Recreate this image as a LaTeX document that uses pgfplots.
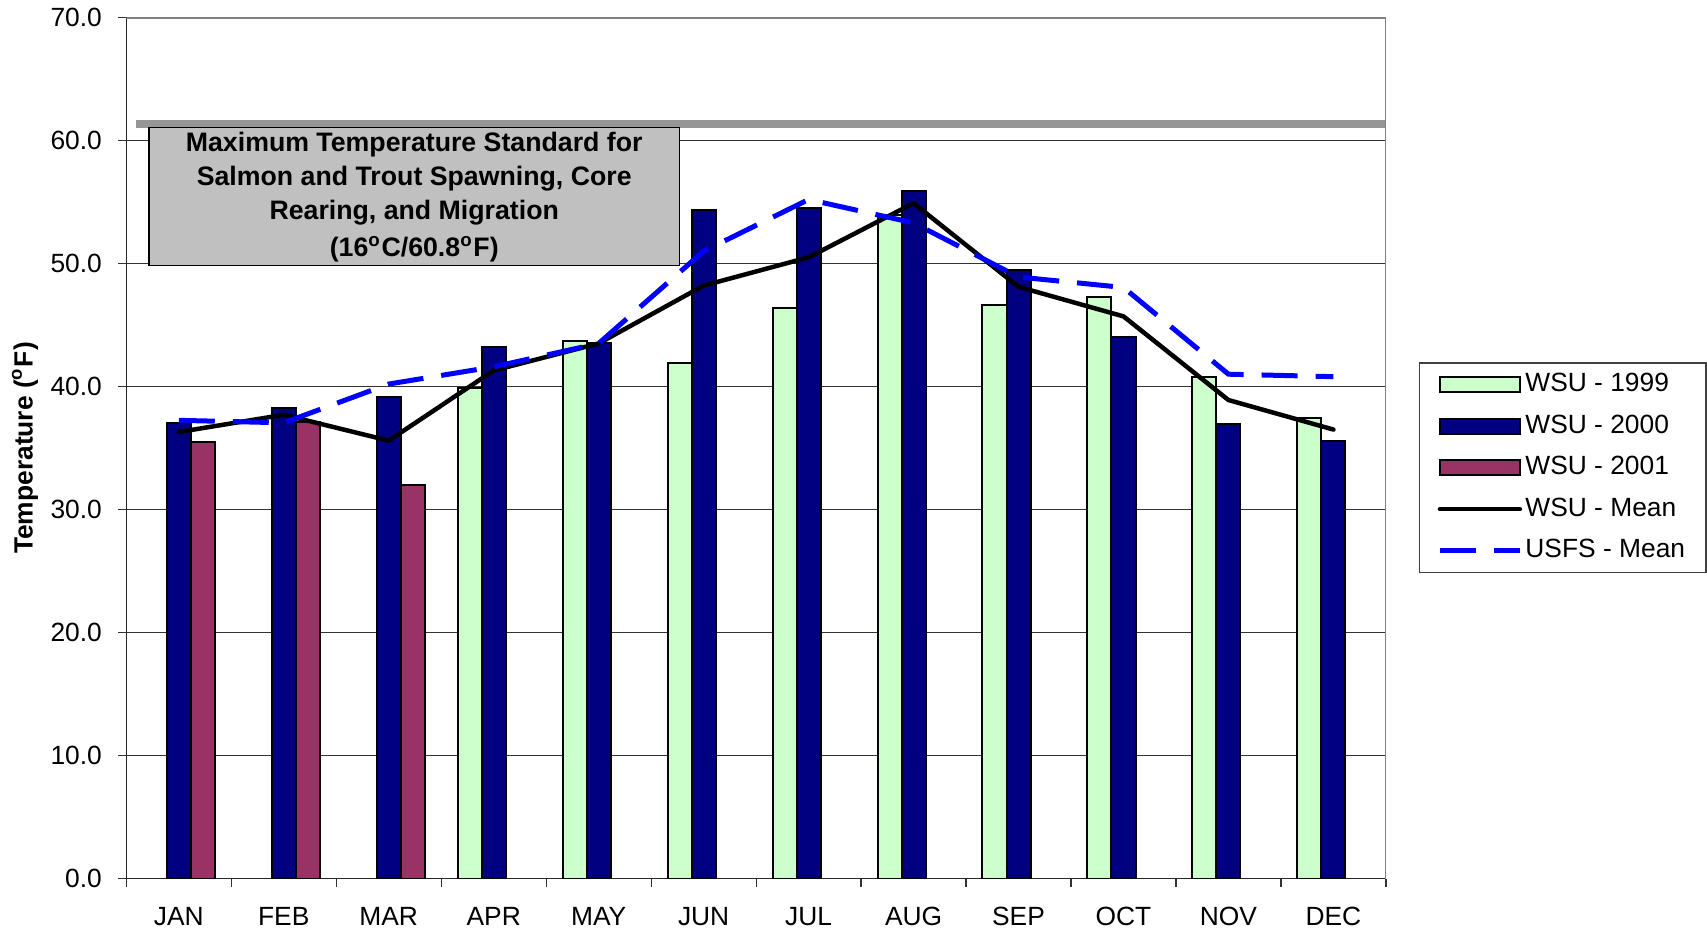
\documentclass[border=0pt]{standalone}
\usepackage{fontspec}
\setmainfont{Liberation Sans}
\usepackage{pgfplots}
\pgfplotsset{compat=1.18}

\definecolor{c1999}{HTML}{CCFFCC}
\definecolor{c2000}{HTML}{000080}
\definecolor{c2001}{HTML}{993366}
\definecolor{boxgray}{HTML}{C0C0C0}
\definecolor{stdgray}{HTML}{969696}
\definecolor{usfsblue}{HTML}{0000FF}

\newcommand{\fs}{\fontsize{7.5}{9}\selectfont}

\pgfplotsset{
  barlegend/.style={legend image code/.code={\draw[##1] (0mm,-0.75mm) rectangle (8mm,0.75mm);}},
  linelegend/.style={legend image code/.code={\draw[##1] (0mm,0mm) -- (8mm,0mm);}},
}

\begin{document}
\begin{tikzpicture}
\path[use as bounding box] (-12.63mm,-5.34mm) rectangle (158.07mm,87.86mm);
\begin{axis}[
    at={(0,0)}, anchor=south west,
    scale only axis, width=125.96mm, height=86.12mm,
    xmin=-0.5, xmax=11.5, ymin=0, ymax=70,
    axis x line*=bottom, axis y line*=left,
    axis line style={-, black!85, line width=0.15mm},
    xtick={0,...,11},
    xticklabels={JAN,FEB,MAR,APR,MAY,JUN,JUL,AUG,SEP,OCT,NOV,DEC},
    minor xtick={-0.5,0.5,...,11.5},
    major x tick style={draw=none},
    ytick={0,10,...,70},
    tick align=outside,
    major tick length=0.8mm, minor tick length=0.8mm,
    tick style={black!80, line width=0.12mm},
    ymajorgrids, grid style={black!80, line width=0.1mm},
    /pgf/number format/assume math mode=true,
    yticklabel style={/pgf/number format/fixed, /pgf/number format/fixed zerofill,
        /pgf/number format/precision=1, xshift=-0.4mm},
    ticklabel style={font=\fs},
    xticklabel style={yshift=-0.8mm},
    ylabel={\textbf{Temperature (\textsuperscript{o}F)}},
    ylabel style={font=\fs, at={(axis description cs:-0.0804,0.5)}, anchor=center},
    legend style={at={(1.026,0.5993)}, anchor=north west, font=\fs,
        draw=black!75, line width=0.15mm, inner xsep=1.8mm, inner ysep=0.45mm,
        row sep=0.75mm,
        nodes={text height=1.9mm, text depth=0.5mm, inner xsep=0.3mm, inner ysep=0.5mm}},
    legend cell align=left,
]

% standard line and label box
\addplot[stdgray, line width=0.8mm, forget plot] coordinates {(-0.408,61.35) (11.5,61.35)};
\draw[black, line width=0.15mm, fill=boxgray] (axis cs:-0.282,49.84) rectangle (axis cs:4.768,61.07);
\node[align=center, font=\fontsize{7.6}{9.6}\selectfont\bfseries] at (axis cs:2.243,55.4)
    {Maximum Temperature Standard for\\Salmon and Trout Spawning, Core\\Rearing, and Migration\\[0.35mm](16\textsuperscript{o}C/60.8\textsuperscript{o}F)};

\addplot[ybar, bar width=0.229, bar shift=-0.229, fill=c1999, draw=black, line width=0.2mm, barlegend]
    coordinates {(3,39.9) (4,43.7) (5,41.9) (6,46.4) (7,53.9) (8,46.6) (9,47.3) (10,40.8) (11,37.4)};
\addlegendentry{WSU - 1999}

\addplot[ybar, bar width=0.229, bar shift=0, fill=c2000, draw=black, line width=0.2mm, barlegend]
    coordinates {(0,37.0) (1,38.25) (2,39.15) (3,43.2) (4,43.5) (5,54.35) (6,54.5) (7,55.9) (8,49.5) (9,44.0) (10,36.95) (11,35.6)};
\addlegendentry{WSU - 2000}

\addplot[ybar, bar width=0.229, bar shift=0.229, fill=c2001, draw=black, line width=0.2mm, barlegend]
    coordinates {(0,35.5) (1,37.15) (2,32.0)};
\addlegendentry{WSU - 2001}

\addplot[black, line width=0.45mm, line join=round, line cap=round, linelegend]
    coordinates {(0,36.3) (1,37.7) (2,35.6) (3,41.3) (4,43.5) (5,48.2) (6,50.5) (7,54.9) (8,48.1) (9,45.7) (10,38.9) (11,36.5)};
\addlegendentry{WSU - Mean}

\addplot[usfsblue, line width=0.5mm, dash pattern=on 3.6mm off 1.8mm, linelegend]
    coordinates {(0,37.25) (1,37.05) (2,40.2) (3,41.6) (4,43.5) (5,51.0) (6,55.2) (7,53.3) (8,48.9) (9,48.05) (10,41.0) (11,40.8)};
\addlegendentry{USFS - Mean}

\draw[black!50, line width=0.25mm] (rel axis cs:0,1) -- (rel axis cs:1,1) -- (rel axis cs:1,0);
\end{axis}
\end{tikzpicture}
\end{document}
